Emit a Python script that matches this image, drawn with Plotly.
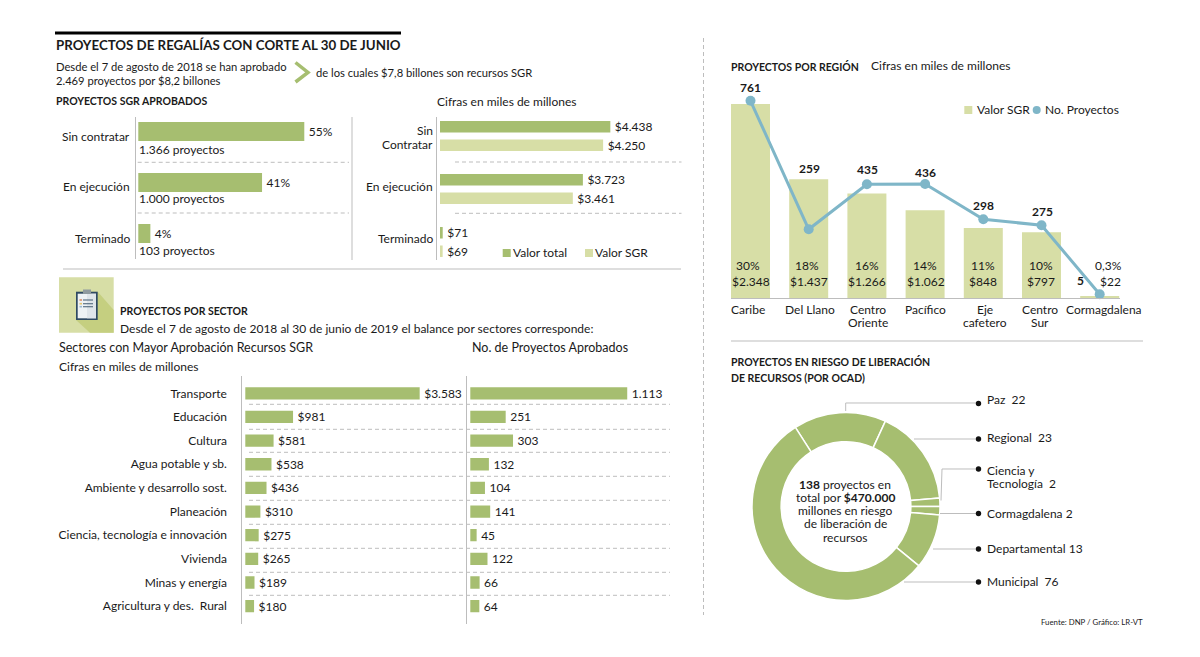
import plotly.graph_objects as go

W, H = 1200, 657
GREEN = "#a6be70"
LIGHT = "#d7dea6"
BLUE = "#7fb6c8"
GRAY = "#bdbdbd"
INK = "#1a1a1a"
FONT = "Lato"

# ---------- data ----------
status_labels = ["Sin contratar", "En ejecución", "Terminado"]
status_pct = [55, 41, 4]
status_projects = [1366, 1000, 103]

value_total = [4438, 3723, 71]
value_sgr = [4250, 3461, 69]

sectors = ["Transporte", "Educación", "Cultura", "Agua potable y sb.",
           "Ambiente y desarrollo sost.", "Planeación",
           "Ciencia, tecnología e innovación", "Vivienda",
           "Minas y energía", "Agricultura y des.  Rural"]
sector_value = [3583, 981, 581, 538, 436, 310, 275, 265, 189, 180]
sector_projects = [1113, 251, 303, 132, 104, 141, 45, 122, 66, 64]

regions = ["Caribe", "Del Llano", "Centro Oriente", "Pacífico",
           "Eje cafetero", "Centro Sur", "Cormagdalena"]
region_value = [2348, 1437, 1266, 1062, 848, 797, 22]
region_projects = [761, 259, 435, 436, 298, 275, 5]
region_pct = ["30%", "18%", "16%", "14%", "11%", "10%", "0,3%"]

ocad = ["Paz", "Regional", "Ciencia y Tecnología", "Cormagdalena",
        "Departamental", "Municipal"]
ocad_projects = [22, 23, 2, 2, 13, 76]


def thousands(v):
    return f"{v:,}".replace(",", ".")


def money(v):
    return "$" + thousands(v)


def px(x):
    return x / W


def py(y):
    return 1 - y / H


annotations = []
shapes = []


def text(x, y, s, size=12, anchor="left", color=INK):
    annotations.append(dict(
        x=px(x), y=py(y - 0.5), xref="paper", yref="paper", text=s, showarrow=False,
        xanchor=anchor, yanchor="middle", borderpad=0, borderwidth=0,
        align=anchor, font=dict(family=FONT, size=size, color=color)))


def line(x0, y0, x1, y1, color=GRAY, width=1, dash=None, layer="above"):
    shapes.append(dict(type="line", xref="paper", yref="paper", x0=px(x0), y0=py(y0),
                       x1=px(x1), y1=py(y1), layer=layer,
                       line=dict(color=color, width=width, dash=dash)))


def rect(x0, y0, x1, y1, fill):
    shapes.append(dict(type="rect", xref="paper", yref="paper", x0=px(x0), y0=py(y0),
                       x1=px(x1), y1=py(y1), fillcolor=fill, line=dict(width=0)))


def poly(points, fill=None, stroke=None, width=0):
    d = "M" + " L".join(f"{px(a):.5f},{py(b):.5f}" for a, b in points)
    if fill:
        d += " Z"
    shapes.append(dict(type="path", xref="paper", yref="paper", path=d,
                       fillcolor=fill or "rgba(0,0,0,0)",
                       line=dict(color=stroke or "rgba(0,0,0,0)", width=width)))


def dot(x, y, r, fill):
    shapes.append(dict(type="circle", xref="paper", yref="paper", x0=px(x - r), x1=px(x + r),
                       y0=py(y + r), y1=py(y - r), fillcolor=fill, line=dict(width=0)))


def hbar_axes(n, axis_x, right, zero_x, scale, top, bottom, first_row, pitch, cats, labels=False):
    """Axes whose data scale follows the pixel layout of the panel."""
    xa = dict(domain=[px(axis_x), px(right)], range=[(axis_x - zero_x) / scale, (right - zero_x) / scale],
              visible=False, anchor=f"y{n}", fixedrange=True)
    ya = dict(domain=[py(bottom), py(top)], anchor=f"x{n}", type="category",
              categoryorder="array", categoryarray=cats,
              range=[(bottom - first_row) / pitch, (top - first_row) / pitch],
              showline=True, linecolor=GRAY, linewidth=1, showgrid=False, zeroline=False,
              ticks="", showticklabels=labels, fixedrange=True)
    if labels:
        ya.update(tickfont=dict(family=FONT, size=12, color=INK), ticklabelstandoff=12)
    return {f"xaxis{n}": xa, f"yaxis{n}": ya}


fig = go.Figure()
layout_axes = {}
BAR_FONT = dict(family=FONT, size=12, color=INK)
THIN = "\u2009"

# ---------- panel A: status share ----------
layout_axes.update(hbar_axes(1, 135.5, 350, 138.3, 3.018, 117, 259, 131.5, 51, status_labels))
fig.add_trace(go.Bar(x=status_pct, y=status_labels, orientation="h", xaxis="x1", yaxis="y1",
                     marker=dict(color=GREEN, line=dict(width=0)), width=19 / 51,
                     text=[f"{THIN}{v}%" for v in status_pct], textposition="outside",
                     textfont=BAR_FONT, cliponaxis=False, constraintext="none",
                     showlegend=False, hoverinfo="skip"))
for lab, y in zip(status_labels, [136.7, 187.5, 238.5]):
    text(130, y, lab, anchor="right")
for v, y in zip(status_projects, [149.5, 199, 251]):
    text(138.5, y, f"{thousands(v)} proyectos")
line(137.7, 162.3, 349, 162.3, dash="4px,3px")
line(137.7, 213, 349, 213, dash="4px,3px")
line(352, 117, 352, 260)

# ---------- panel B: totals vs SGR ----------
layout_axes.update(hbar_axes(2, 436.7, 682, 440, 0.03838, 117, 260, 136, 53, status_labels))
for vals, col, off in ((value_total, GREEN, -0.283), (value_sgr, LIGHT, 0.066)):
    fig.add_trace(go.Bar(x=vals, y=status_labels, orientation="h", xaxis="x2", yaxis="y2",
                         marker=dict(color=col, line=dict(width=0)), width=0.217, offset=off,
                         text=[THIN + money(v) for v in vals], textposition="outside",
                         textfont=BAR_FONT, cliponaxis=False, constraintext="none",
                         showlegend=False, hoverinfo="skip"))
text(433, 131.5, "Sin", anchor="right")
text(433, 145, "Contratar", anchor="right")
text(433, 187, "En ejecución", anchor="right")
text(433, 238.5, "Terminado", anchor="right")
line(455, 162, 681.5, 162, dash="4px,3px")
line(455, 213.3, 681.5, 213.3, dash="4px,3px")
rect(502.7, 249, 510.7, 257, GREEN)
text(513, 253, "Valor total")
rect(585, 249, 593, 257, LIGHT)
text(595, 253, "Valor SGR")

# ---------- panel C: sectors ----------
layout_axes.update(hbar_axes(3, 242.3, 467, 245.3, 0.04867, 376, 624, 393.3, 23.65, sectors, labels=True))
layout_axes.update(hbar_axes(4, 467.3, 670, 470.3, 0.141, 376, 624, 393.3, 23.65, sectors))
for vals, n, lab in ((sector_value, 3, money), (sector_projects, 4, thousands)):
    fig.add_trace(go.Bar(x=vals, y=sectors, orientation="h", xaxis=f"x{n}", yaxis=f"y{n}",
                         marker=dict(color=GREEN, line=dict(width=0)), width=12.3 / 23.65,
                         text=[THIN + lab(v) for v in vals], textposition="outside",
                         textfont=BAR_FONT, cliponaxis=False, constraintext="none",
                         showlegend=False, hoverinfo="skip"))
for y in (404.3, 429.3, 452.3, 476.3, 500.3, 524.3, 548.3, 572.3, 595.3):
    line(249, y, 670, y, dash="4px,3px")

# ---------- panel D: regions ----------
base_y, top_y = 298, 60
layout_axes["xaxis5"] = dict(domain=[px(731), px(1120)], anchor="y5", type="category",
                             categoryorder="array", categoryarray=regions,
                             range=[(731 - 750.5) / 58.2, (1120 - 750.5) / 58.2],
                             showline=True, linecolor=GRAY, linewidth=1, showgrid=False, zeroline=False,
                             ticks="", showticklabels=False, fixedrange=True)
layout_axes["yaxis5"] = dict(domain=[py(base_y), py(top_y)], anchor="x5",
                             range=[0, (base_y - top_y) / 0.0826], visible=False, fixedrange=True)
layout_axes["yaxis6"] = dict(domain=[py(base_y), py(top_y)], anchor="x5", overlaying="y5",
                             range=[(295.6 - base_y) / 0.256, (295.6 - top_y) / 0.256],
                             visible=False, fixedrange=True)
fig.add_trace(go.Bar(x=regions, y=region_value, xaxis="x5", yaxis="y5", width=0.67,
                     marker=dict(color=LIGHT, line=dict(width=0)),
                     showlegend=False, hoverinfo="skip"))
fig.add_trace(go.Scatter(x=regions, y=region_projects, xaxis="x5", yaxis="y6", mode="lines+markers",
                         line=dict(color=BLUE, width=3), marker=dict(color=BLUE, size=10),
                         cliponaxis=False, showlegend=False, hoverinfo="skip"))
for v, x, y in zip(region_projects, [750, 809, 867, 926, 984, 1042, 1080.7],
                   [87.7, 168.7, 169.5, 172.7, 206, 211.7, 281]):
    text(x, y, f"<b>{v}</b>", anchor="center")
for p, x in zip(region_pct, [748, 806.7, 866.7, 925, 983, 1041, 1108]):
    text(x, 266, p, anchor="center")
for v, x in zip(region_value, [751, 809, 866.7, 926, 982.7, 1040.7, 1110]):
    text(x, 282, money(v), anchor="center")
# category captions, wrapped as in the reference
for name, x in zip(regions, [748, 810, 868, 925, 985, 1040, 1104]):
    if name in ("Centro Oriente", "Eje cafetero", "Centro Sur"):
        first, second = name.split(" ")
        text(x, 309.5, first, anchor="center")
        text(x, 323, second, anchor="center")
    else:
        text(x, 309.5, name, anchor="center")
rect(964.3, 106, 972.3, 114, LIGHT)
text(977, 110, "Valor SGR")
dot(1036.7, 110, 4, BLUE)
text(1045, 110, "No. Proyectos")

# ---------- panel E: donut ----------
fig.add_trace(go.Pie(labels=ocad, values=ocad_projects, sort=False, direction="clockwise",
                     rotation=-32.6, hole=0.69, textinfo="none", showlegend=False, hoverinfo="skip",
                     marker=dict(colors=[GREEN] * 6, line=dict(color="white", width=1.5)),
                     domain=dict(x=[px(752), px(940)], y=[py(600.5), py(412.5)])))
poly([(845.7, 411), (845.7, 403), (978, 403)], stroke=GRAY, width=1)
line(914, 439, 978, 439)
poly([(941, 500.5), (942, 469), (978, 469)], stroke=GRAY, width=1)
line(940, 513.5, 978, 513.5)
line(933, 549, 978, 549)
line(904, 582, 978, 582)
for y in (403.5, 439, 469, 513.5, 549, 582):
    dot(978.5, y, 2.7, "#111111")
text(987, 399.5, f"{ocad[0]}  {ocad_projects[0]}")
text(987, 437.5, f"{ocad[1]}  {ocad_projects[1]}")
text(987, 470.5, "Ciencia y")
text(987, 484, f"Tecnología  {ocad_projects[2]}")
text(987, 513.5, f"{ocad[3]} {ocad_projects[3]}")
text(987, 548.5, f"{ocad[4]} {ocad_projects[4]}")
text(987, 582, f"{ocad[5]}  {ocad_projects[5]}")
text(845, 484.6, "<b>138</b> proyectos en", anchor="center")
text(845, 497.7, "total por <b>$470.000</b>", anchor="center")
text(845, 510.8, "millones en riesgo", anchor="center")
text(845, 523.9, "de liberación de", anchor="center")
text(845, 537.7, "recursos", anchor="center")

# ---------- headings and rules ----------
line(55, 33, 401, 33, color="#000000", width=3)
text(56, 45.5, "<b>PROYECTOS DE REGALÍAS CON CORTE AL 30 DE JUNIO</b>", size=13.3)
text(56, 67, "Desde el 7 de agosto de 2018 se han aprobado", size=11.2)
text(56, 81, "2.469 proyectos por $8,2 billones", size=11.2)
poly([(295.5, 62.5), (308, 72.5), (295.5, 82)], stroke=GREEN, width=3.5)
text(316, 73, "de los cuales $7,8 billones son recursos SGR", size=11.2)
text(56, 102, "<b>PROYECTOS SGR APROBADOS</b>", size=10.5)
text(437, 102, "Cifras en miles de millones")
line(63, 269, 681, 269)
line(703.5, 38, 703.5, 615, dash="4px,3px")
line(731, 341, 1143, 341)

# icon
rect(59, 277.3, 113.7, 332.7, LIGHT)
poly([(97.7, 291.7), (113.7, 310), (113.7, 332.7), (90, 332.7), (76, 320)], fill="#c5cf80")
rect(76, 291.7, 97.7, 320, "#2f4a63")
rect(77.7, 293.7, 96, 318.3, "#eef2f5")
rect(87, 293.7, 96, 318.3, "#dfe5ea")
rect(83, 289.5, 91, 294, "#8f9a9f")
for y, c in ((300, "#d98a6a"), (303.7, "#e3c36f"), (306.7, "#9ab8cf")):
    rect(79.5, y - 0.8, 82, y + 0.8, c)
    rect(83, y - 0.6, 93, y + 0.6, "#5d7286")

text(120, 312, "<b>PROYECTOS POR SECTOR</b>", size=10.5)
text(120, 328.5, "Desde el 7 de agosto de 2018 al 30 de junio de 2019 el balance por sectores corresponde:")
text(59, 347.5, "Sectores con Mayor Aprobación Recursos SGR", size=12.5)
text(472, 347.5, "No. de Proyectos Aprobados", size=12.5)
text(59, 367, "Cifras en miles de millones")

text(731, 67.5, "<b>PROYECTOS POR REGIÓN</b>", size=10.5)
text(871, 66, "Cifras en miles de millones")
text(731, 362, "<b>PROYECTOS EN RIESGO DE LIBERACIÓN</b>", size=10.5)
text(731, 378, "<b>DE RECURSOS (POR OCAD)</b>", size=10.5)
text(1143, 622.5, "Fuente: DNP / Gráfico: LR-VT", size=7.8, anchor="right")

fig.update_layout(width=W, height=H, margin=dict(l=0, r=0, t=0, b=0, autoexpand=False),
                  paper_bgcolor="white", plot_bgcolor="rgba(0,0,0,0)",
                  font=dict(family=FONT, color=INK), showlegend=False, hovermode=False,
                  annotations=annotations, shapes=shapes, **layout_axes)

fig.write_html("out.html", config=dict(displayModeBar=False, responsive=False),
               post_script="document.body.style.margin='0';document.body.style.overflow='hidden';")
